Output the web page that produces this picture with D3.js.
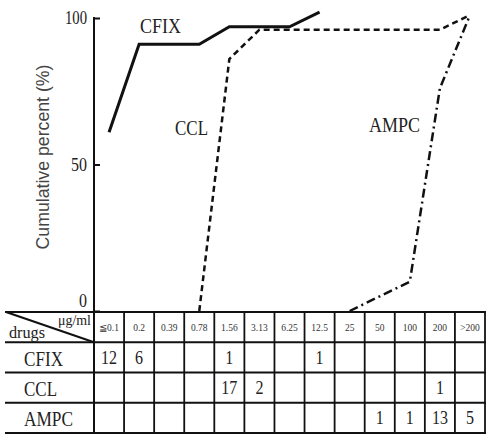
<!DOCTYPE html>
<html><head><meta charset="utf-8">
<script src="https://cdn.jsdelivr.net/npm/d3@7"></script>
<style>body{margin:0;background:#fff}svg{display:block}</style>
</head><body>
<svg id="c" width="486" height="435"></svg>
<script>
const categories = ["≦0.1","0.2","0.39","0.78","1.56","3.13","6.25","12.5","25","50","100","200",">200"];
const drugs = ["CFIX","CCL","AMPC"];
// counts in the table
const countsCFIX = [12,6,0,0,1,0,0,1,0,0,0,0,0];
const countsCCL  = [0,0,0,0,17,2,0,0,0,0,0,1,0];
const countsAMPC = [0,0,0,0,0,0,0,0,0,1,1,13,5];
// cumulative percent as drawn in the figure (null = not drawn)
const cumCFIX = [61,91,91,91,97,97,97,102,null,null,null,null,null];
const cumCCL  = [null,null,null,0,86,96,96,96,96,96,96,96,101];
const cumAMPC = [null,null,null,null,null,null,null,null,0,5,10,76,101];
const yTicks = [0,50,100];

const svg = d3.select("#c");
const serif = "'Liberation Serif','DejaVu Serif',serif";
const x = d3.scaleBand().domain(categories).range([94,485]);
const y = d3.scaleLinear().domain([0,100]).range([311,18]);
const rows = d3.scaleBand().domain(["head"].concat(drugs)).range([312,433]);

// y axis
const yAxis = d3.axisRight(y).tickValues(yTicks).tickSize(6).tickFormat("");
const ag = svg.append("g").attr("transform","translate(94,0)").call(yAxis);
ag.select(".domain").remove();
ag.selectAll("line").attr("stroke","#111").attr("stroke-width",2);
svg.append("line").attr("x1",94).attr("x2",94).attr("y1",y(100)-1).attr("y2",433)
  .attr("stroke","#111").attr("stroke-width",2);
const tl = {100:22, 50:16, 0:8};
yTicks.forEach(t=>{
  svg.append("text").attr("x",87).attr("y",t===0?y(t)-4:y(t)+6)
    .attr("text-anchor","end").attr("font-family",serif).attr("font-size",19)
    .attr("textLength",tl[t]).attr("lengthAdjust","spacingAndGlyphs")
    .attr("fill","#222").text(t);
});
svg.append("text").attr("transform","translate(49,157) rotate(-90)")
  .attr("text-anchor","middle").attr("font-family","'Liberation Sans',Arial,sans-serif")
  .attr("font-size",18).attr("fill","#444")
  .attr("textLength",185).attr("lengthAdjust","spacingAndGlyphs")
  .text("Cumulative percent (%)");

// lines
const lineGen = d3.line().defined(d=>d.v!==null).x(d=>x(d.c)+x.bandwidth()/2).y(d=>y(d.v));
function series(arr){return categories.map((c,i)=>({c:c,v:arr[i]}));}
svg.append("path").datum(series(cumCFIX)).attr("d",lineGen).attr("fill","none")
  .attr("stroke","#111").attr("stroke-width",3);
svg.append("path").datum(series(cumCCL)).attr("d",lineGen).attr("fill","none")
  .attr("stroke","#111").attr("stroke-width",2.5).attr("stroke-dasharray","6,4");
svg.append("path").datum(series(cumAMPC)).attr("d",lineGen).attr("fill","none")
  .attr("stroke","#111").attr("stroke-width",2.5).attr("stroke-dasharray","9,4,2,4");

// line labels
[["CFIX",140,33,41],["CCL",175,135,33],["AMPC",369,132,51]].forEach(l=>{
  svg.append("text").attr("x",l[1]).attr("y",l[2]).attr("font-family",serif)
    .attr("font-size",21).attr("fill","#222")
    .attr("textLength",l[3]).attr("lengthAdjust","spacingAndGlyphs").text(l[0]);
});

// table
const tg = svg.append("g");
const hy = rows.domain().map(r=>rows(r)).concat([433]);
hy.forEach((yy,i)=>{
  tg.append("line").attr("x1",5).attr("x2",486).attr("y1",yy).attr("y2",yy)
    .attr("stroke","#111").attr("stroke-width",2);
});
categories.forEach(c=>{
  tg.append("line").attr("x1",x(c)+x.bandwidth()).attr("x2",x(c)+x.bandwidth())
    .attr("y1",312).attr("y2",433).attr("stroke","#111").attr("stroke-width",1.8);
});
tg.append("line").attr("x1",6).attr("y1",312).attr("x2",94).attr("y2",rows("CFIX"))
  .attr("stroke","#111").attr("stroke-width",2);
tg.append("text").attr("x",58).attr("y",325).attr("font-family",serif).attr("font-size",14)
  .attr("fill","#222").attr("textLength",33).attr("lengthAdjust","spacingAndGlyphs").text("μg/ml");
tg.append("text").attr("x",9).attr("y",338).attr("font-family",serif).attr("font-size",16)
  .attr("fill","#222").attr("textLength",36).attr("lengthAdjust","spacingAndGlyphs").text("drugs");
categories.forEach(c=>{
  tg.append("text").attr("x",x(c)+x.bandwidth()/2).attr("y",331).attr("text-anchor","middle")
    .attr("font-family",serif).attr("font-size",9.5).attr("fill","#333").text(c);
});
const counts = {CFIX:countsCFIX, CCL:countsCCL, AMPC:countsAMPC};
const rowW = {CFIX:39, CCL:33, AMPC:49};
drugs.forEach(d=>{
  const base = rows(d)+rows.bandwidth()-7;
  tg.append("text").attr("x",24).attr("y",base).attr("font-family",serif).attr("font-size",21)
    .attr("fill","#222").attr("textLength",rowW[d]).attr("lengthAdjust","spacingAndGlyphs").text(d);
  counts[d].forEach((v,i)=>{
    if(!v) return;
    tg.append("text").attr("x",x(categories[i])+x.bandwidth()/2).attr("y",base-2)
      .attr("text-anchor","middle").attr("font-family",serif).attr("font-size",19)
      .attr("fill","#222").attr("textLength",String(v).length*8).attr("lengthAdjust","spacingAndGlyphs")
      .text(v);
  });
});
</script>
</body></html>
